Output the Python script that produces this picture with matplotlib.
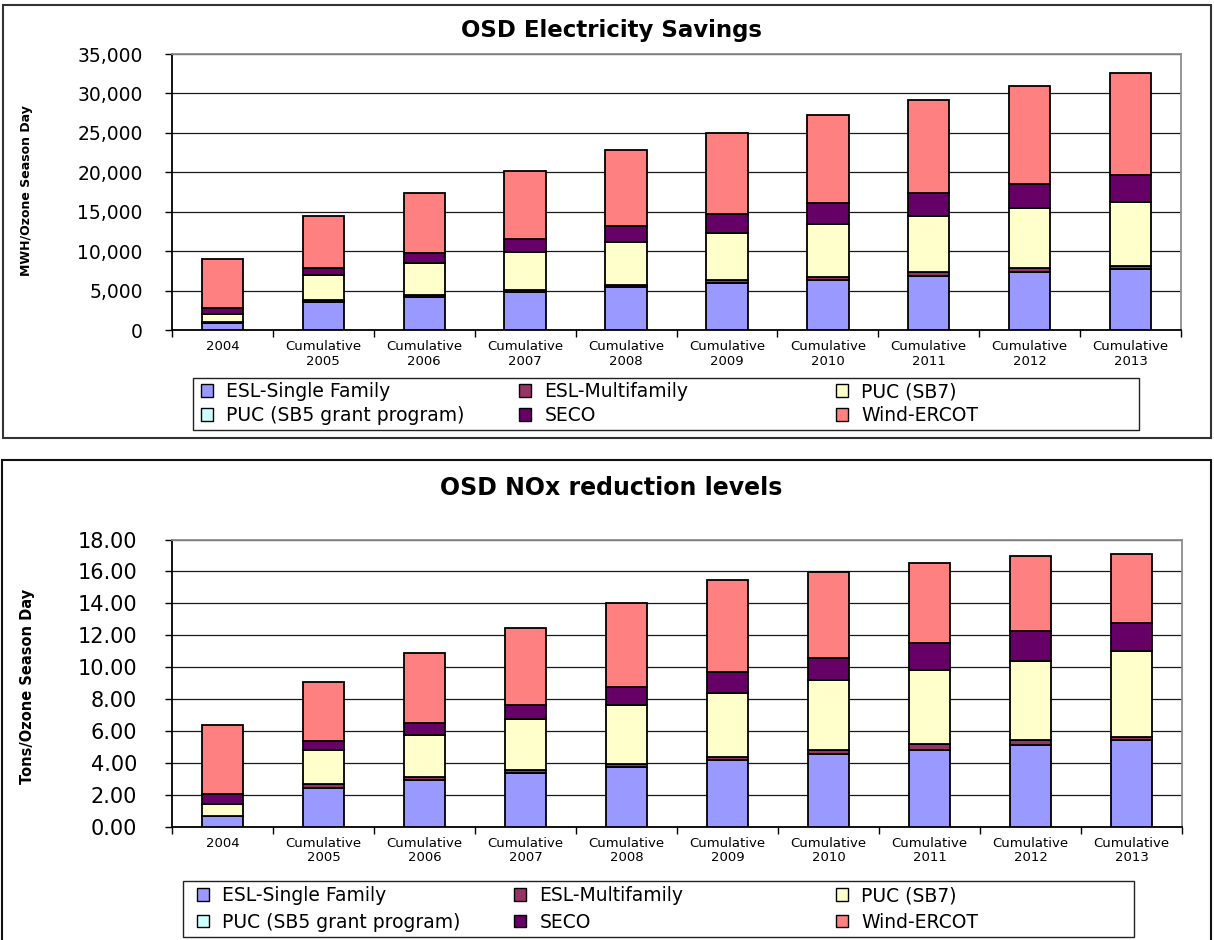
import numpy as np
import matplotlib
matplotlib.use("Agg")
import matplotlib.pyplot as plt
from matplotlib.patches import Rectangle, Patch
from matplotlib.ticker import FuncFormatter

# categories and series
categories = ["2004"] + ["Cumulative\n%d" % y for y in range(2005, 2014)]
series_names = ["ESL-Single Family", "ESL-Multifamily", "PUC (SB7)",
                "PUC (SB5 grant program)", "SECO", "Wind-ERCOT"]
series_colors = ["#9999FF", "#993366", "#FFFFCC", "#CCFFFF", "#660066", "#FF8080"]

# OSD electricity savings, MWh / ozone season day
elec_esl_single = [970, 3550, 4180, 4820, 5450, 5960, 6420, 6890, 7400, 7730]
elec_esl_multi = [100, 300, 300, 290, 260, 420, 380, 460, 460, 470]
elec_puc_sb7 = [960, 3210, 4060, 4860, 5530, 6000, 6720, 7150, 7570, 8030]
elec_puc_sb5 = [0, 0, 0, 0, 0, 0, 0, 0, 0, 0]
elec_seco = [840, 800, 1310, 1610, 1990, 2290, 2580, 2870, 3080, 3420]
elec_wind = [6170, 6680, 7520, 8580, 9550, 10310, 11120, 11840, 12470, 12940]

# OSD NOx reductions, tons / ozone season day
nox_esl_single = [0.67, 2.43, 2.97, 3.41, 3.77, 4.18, 4.54, 4.81, 5.15, 5.42]
nox_esl_multi = [0.03, 0.25, 0.17, 0.19, 0.20, 0.21, 0.27, 0.36, 0.27, 0.23]
nox_puc_sb7 = [0.76, 2.13, 2.63, 3.14, 3.65, 4.02, 4.37, 4.64, 5.00, 5.40]
nox_puc_sb5 = [0, 0, 0, 0, 0, 0, 0, 0, 0, 0]
nox_seco = [0.63, 0.55, 0.72, 0.90, 1.17, 1.30, 1.43, 1.68, 1.86, 1.75]
nox_wind = [4.31, 3.74, 4.39, 4.79, 5.25, 5.73, 5.35, 5.02, 4.67, 4.31]

W, H = 1214, 940
plt.rcParams['font.family'] = 'DejaVu Sans'
fig = plt.figure(figsize=(W / 100, H / 100), dpi=100)


def fx(px):
    return px / W


def fy(py):
    return 1 - py / H


def draw_panel(rect, series, ymax, step, fmt, ysize, ypad):
    ax = fig.add_axes(rect)
    x = np.arange(len(categories))
    bottom = np.zeros(len(categories))
    for vals, col in zip(series, series_colors):
        vals = np.array(vals, dtype=float)
        ax.bar(x, vals, 0.41, bottom=bottom, color=col, edgecolor='black',
               linewidth=1.3, zorder=3)
        bottom += vals
    ax.set_xlim(-0.5, len(categories) - 0.5)
    ax.set_ylim(0, ymax)
    ax.set_yticks(np.arange(0, ymax + step / 2, step))
    ax.yaxis.set_major_formatter(FuncFormatter(fmt))
    ax.yaxis.grid(True, color='#1a1a1a', linewidth=0.9)
    ax.set_axisbelow(True)
    ax.set_xticks(x)
    ax.set_xticklabels(categories, fontsize=9.5, linespacing=1.15)
    ax.set_xticks(np.arange(-0.5, len(categories), 1), minor=True)
    ax.tick_params(axis='x', which='major', length=0, pad=7)
    ax.tick_params(axis='x', which='minor', length=5, width=1, direction='out')
    ax.tick_params(axis='y', length=5, width=1, direction='out', pad=ypad,
                   labelsize=ysize)
    for s in ['left', 'bottom']:
        ax.spines[s].set_color('black')
        ax.spines[s].set_linewidth(1.3)
    for s in ['top', 'right']:
        ax.spines[s].set_color('#8c8c8c')
        ax.spines[s].set_linewidth(1.3)
    return ax


def draw_legend(box, col_x, row_top, spacing):
    handles = [Patch(facecolor=c, edgecolor='black', linewidth=1)
               for c in series_colors]
    # three columns of two entries, row-wise order as in Excel
    for i in range(3):
        fig.legend([handles[i], handles[i + 3]],
                   [series_names[i], series_names[i + 3]],
                   loc='upper left', bbox_to_anchor=(fx(col_x[i]), fy(row_top)),
                   frameon=False, fontsize=13.5, borderpad=0, borderaxespad=0,
                   handlelength=0.65, handleheight=0.65, handletextpad=0.7,
                   labelspacing=spacing)
    x0, y0, x1, y1 = box
    fig.add_artist(Rectangle((fx(x0), fy(y1)), fx(x1 - x0), (y1 - y0) / H,
                             transform=fig.transFigure, fill=False,
                             edgecolor='#222222', linewidth=1))


# panel frames
fig.add_artist(Rectangle((fx(3), fy(438)), fx(1208), 433 / H,
                         transform=fig.transFigure, fill=False,
                         edgecolor='#333333', linewidth=1.5))
fig.add_artist(Rectangle((fx(2), fy(960)), fx(1209), 500 / H,
                         transform=fig.transFigure, fill=False,
                         edgecolor='#111111', linewidth=1.5))

# top chart
draw_panel([fx(172), fy(330.3), fx(1181 - 172), (330.3 - 54) / H],
           [elec_esl_single, elec_esl_multi, elec_puc_sb7, elec_puc_sb5,
            elec_seco, elec_wind],
           35000, 5000, lambda v, p: "{:,.0f}".format(v), 13.5, 16)
fig.text(fx(611), fy(31), "OSD Electricity Savings", ha='center', va='center',
         fontsize=16.5, fontweight='bold')
fig.text(fx(27), fy(191), "MWH/Ozone Season Day", rotation=90, ha='center',
         va='center', fontsize=9, fontweight='bold')
draw_legend((193, 378, 1139, 430), (201, 519, 836), 382, 0.28)

# bottom chart
draw_panel([fx(172), fy(827), fx(1182 - 172), (827 - 539.5) / H],
           [nox_esl_single, nox_esl_multi, nox_puc_sb7, nox_puc_sb5,
            nox_seco, nox_wind],
           18, 2, lambda v, p: "{:.2f}".format(v), 15, 20)
fig.text(fx(611), fy(488), "OSD NOx reduction levels", ha='center', va='center',
         fontsize=17, fontweight='bold')
fig.text(fx(28), fy(686), "Tons/Ozone Season Day", rotation=90, ha='center',
         va='center', fontsize=10.5, fontweight='bold')
draw_legend((183, 881, 1134, 937), (197, 514, 836), 886, 0.4)

fig.savefig("out.png", dpi=100)
